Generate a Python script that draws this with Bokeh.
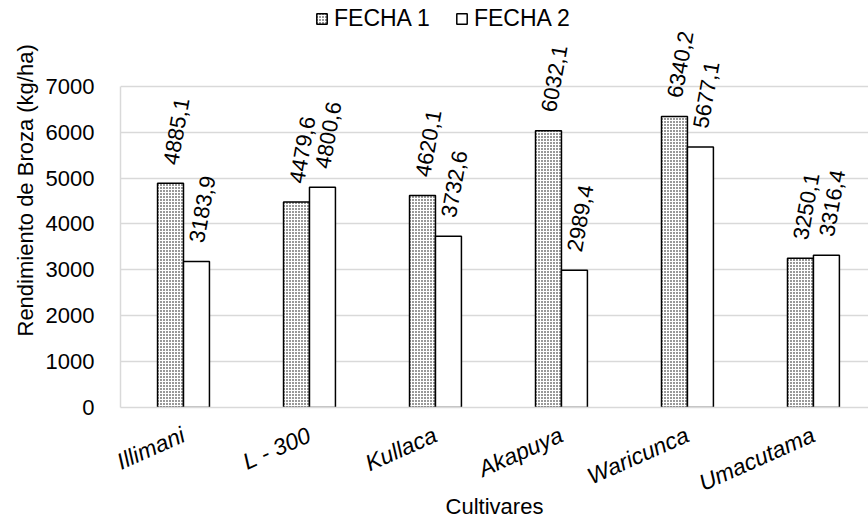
import numpy as np
from bokeh.plotting import figure
from bokeh.models import (ColumnDataSource, Range1d, FixedTicker, Legend, LegendItem, Title)
from bokeh.transform import dodge
from bokeh.core.properties import value
from bokeh.embed import file_html
from bokeh.resources import INLINE

cultivares = ["Illimani", "L - 300", "Kullaca", "Akapuya", "Waricunca", "Umacutama"]
fecha1 = [4885.1, 4479.6, 4620.1, 6032.1, 6340.2, 3250.1]
fecha2 = [3183.9, 4800.6, 3732.6, 2989.4, 5677.1, 3316.4]
y_ticks = [0, 1000, 2000, 3000, 4000, 5000, 6000, 7000]

FONT = "Liberation Sans"
FS = "22px"

# layout (pixels)
W, H = 868, 521
LEFT, BOTTOM_PX = 120, 408      # frame left edge, zero line
TOP_AXIS_PX = 86                # where 7000 sits
y_max = y_ticks[-1]
y_end = y_max * BOTTOM_PX / (BOTTOM_PX - TOP_AXIS_PX)

idx = list(range(len(cultivares)))
src = ColumnDataSource(dict(
    x=idx,
    f1=fecha1, f2=fecha2,
    l1=[f"{v:.1f}".replace(".", ",") for v in fecha1],
    l2=[f"{v:.1f}".replace(".", ",") for v in fecha2],
))

p = figure(width=W, height=H, output_backend="svg", toolbar_location=None,
           x_range=Range1d(-0.5, 5.437), y_range=Range1d(0, y_end),
           min_border_left=LEFT, min_border_right=0, min_border_top=0,
           min_border_bottom=H - BOTTOM_PX)
p.background_fill_color = "white"
p.border_fill_color = "white"
p.outline_line_color = None

BW = 0.206
r1 = p.vbar(x=dodge("x", -BW / 2), top="f1", width=BW, source=src,
            fill_color="white", line_color="black", line_width=1.5,
            hatch_pattern="dot", hatch_color="black", hatch_scale=3, hatch_weight=1)
r2 = p.vbar(x=dodge("x", BW / 2), top="f2", width=BW, source=src,
            fill_color="white", line_color="black", line_width=1.5)

ang = np.deg2rad(80)
for col, lab, off in (("f1", "l1", -BW / 2), ("f2", "l2", BW / 2)):
    p.text(x=dodge("x", off), y=col, text=lab, source=src, angle=ang,
           text_align="left", text_baseline="middle", y_offset=-19,
           text_font=value(FONT), text_font_size=FS, text_color="black")

# grid
p.xgrid.grid_line_color = None
p.ygrid.grid_line_color = "#d9d9d9"
p.ygrid.grid_line_width = 1.5
p.ygrid.ticker = FixedTicker(ticks=y_ticks)

# y axis
p.yaxis.ticker = FixedTicker(ticks=y_ticks)
p.yaxis.bounds = (0, y_max)
p.yaxis.axis_line_color = "#d9d9d9"
p.yaxis.axis_line_width = 1.5
p.yaxis.major_tick_line_color = None
p.yaxis.minor_tick_line_color = None
p.yaxis.major_label_text_font = FONT
p.yaxis.major_label_text_font_size = FS
p.yaxis.major_label_text_color = "black"
p.yaxis.major_label_standoff = 20

p.add_layout(Title(text="Rendimiento de Broza (kg/ha)", align="left", offset=71,
                   text_font=FONT, text_font_size=FS, text_font_style="normal",
                   text_color="black"), "left")

# x axis
p.xaxis.ticker = FixedTicker(ticks=idx)
p.xaxis.major_label_overrides = {i: c for i, c in zip(idx, cultivares)}
p.xaxis.major_label_orientation = np.deg2rad(24)
p.xaxis.major_label_text_font = FONT
p.xaxis.major_label_text_font_size = "23px"
p.xaxis.major_label_text_font_style = "italic"
p.xaxis.major_label_text_color = "black"
p.xaxis.major_label_standoff = 20
p.xaxis.axis_line_color = "#d9d9d9"
p.xaxis.axis_line_width = 1.5
p.xaxis.major_tick_line_color = None
p.xaxis.minor_tick_line_color = None
p.xaxis.axis_label = "Cultivares"
p.xaxis.axis_label_text_font = FONT
p.xaxis.axis_label_text_font_size = FS
p.xaxis.axis_label_text_font_style = "normal"
p.xaxis.axis_label_text_color = "black"
p.xaxis.axis_label_standoff = -17

legend = Legend(items=[LegendItem(label="FECHA 1", renderers=[r1]),
                       LegendItem(label="FECHA 2", renderers=[r2])],
                orientation="horizontal", location=(195, 375),
                glyph_width=13, glyph_height=13, label_standoff=6, spacing=25,
                padding=0, margin=0, border_line_color=None, background_fill_alpha=0,
                label_text_font=FONT, label_text_font_size="23px", label_text_color="black")
p.add_layout(legend, "center")

open("out.html", "w").write(file_html(p, INLINE))
